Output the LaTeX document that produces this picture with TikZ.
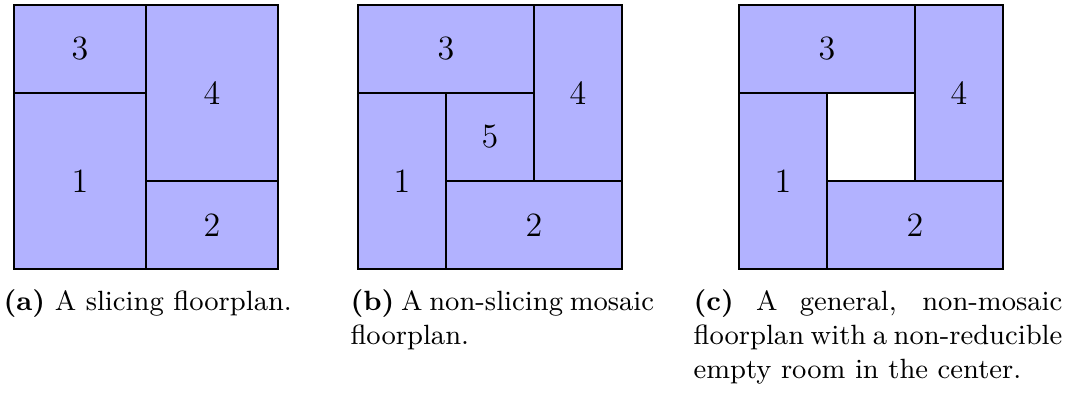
\documentclass[tikz,border=0pt]{standalone}
\begin{document}
\begin{tikzpicture}[
  room/.style={draw, fill=blue!30},
  hole/.style={draw, fill=white},
  lbl/.style={font=\fontsize{11}{13}\selectfont},
  subcap/.style={font=\small, inner sep=0pt}
]
  \useasboundingbox (-0.159,-1.420) rectangle (12.034,3.057);

  % (a) slicing floorplan
  \draw[room] (0,2) rectangle (1.5,3);
  \draw[room] (0,0) rectangle (1.5,2);
  \draw[room] (1.5,1) rectangle (3,3);
  \draw[room] (1.5,0) rectangle (3,1);
  \node[lbl] (a3) at (0.75,2.5) {3};
  \node[lbl] (a1) at (0.75,1.0) {1};
  \node[lbl] (a4) at (2.25,2.0) {4};
  \node[lbl] (a2) at (2.25,0.5) {2};
  \node[subcap, anchor=base] (capa) at (1.52,-0.466)
    {\textbf{(a)} A slicing floorplan.};

  % (b) non-slicing mosaic floorplan
  \begin{scope}[xshift=3.909cm]
    \draw[room] (0,2) rectangle (2,3);
    \draw[room] (2,1) rectangle (3,3);
    \draw[room] (0,0) rectangle (1,2);
    \draw[room] (1,1) rectangle (2,2);
    \draw[room] (1,0) rectangle (3,1);
    \node[lbl] (b3) at (1.0,2.5) {3};
    \node[lbl] (b4) at (2.5,2.0) {4};
    \node[lbl] (b1) at (0.5,1.0) {1};
    \node[lbl] (b5) at (1.5,1.5) {5};
    \node[lbl] (b2) at (2.0,0.5) {2};
  \end{scope}
  \node[subcap, anchor=base west, text width=3.45cm, align=justify] (capb) at (3.818,-0.466)
    {\textbf{(b)} A non-slicing mosaic floorplan.};

  % (c) general floorplan, empty room in the middle
  \begin{scope}[xshift=8.239cm]
    \draw[room] (0,2) rectangle (2,3);
    \draw[room] (2,1) rectangle (3,3);
    \draw[room] (0,0) rectangle (1,2);
    \draw[hole] (1,1) rectangle (2,2);
    \draw[room] (1,0) rectangle (3,1);
    \node[lbl] (c3) at (1.0,2.5) {3};
    \node[lbl] (c4) at (2.5,2.0) {4};
    \node[lbl] (c1) at (0.5,1.0) {1};
    \node[lbl] (c2) at (2.0,0.5) {2};
  \end{scope}
  \node[subcap, anchor=base west, text width=4.19cm, align=justify] (capc) at (7.716,-0.466)
    {\textbf{(c)} A general, non-mosaic floorplan with a non-reducible empty room in the center.};
\end{tikzpicture}
\end{document}
